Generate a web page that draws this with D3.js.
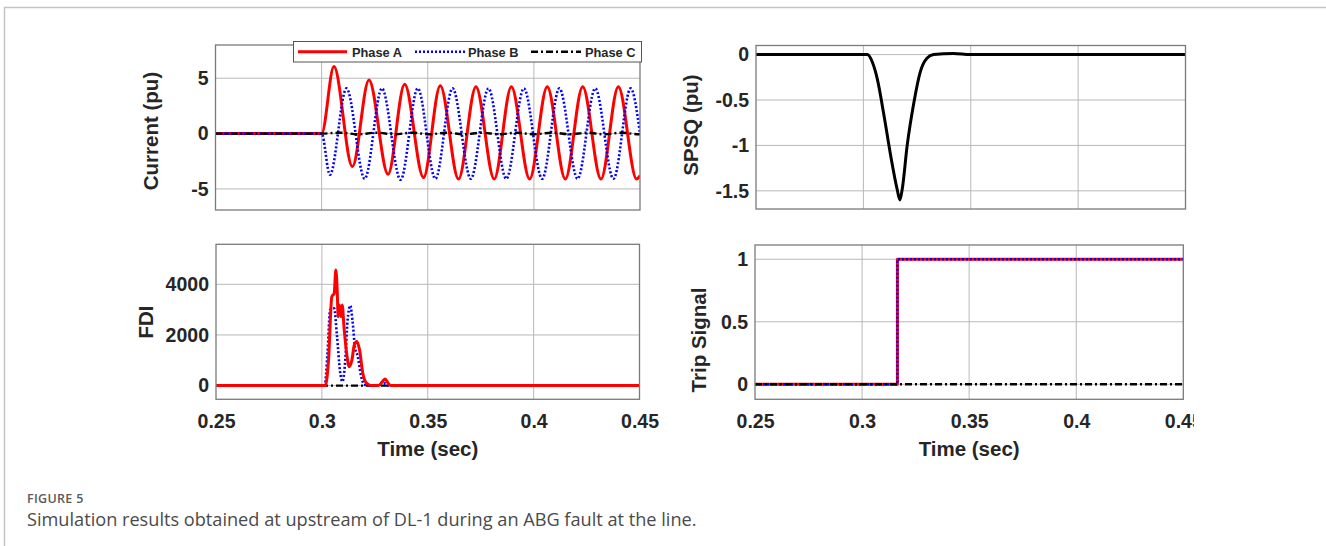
<!DOCTYPE html>
<html>
<head>
<meta charset="utf-8">
<script src="https://cdn.jsdelivr.net/npm/d3@7"></script>
<style>
  body { margin: 0; background: #fff; }
  svg { display: block; }
</style>
</head>
<body>
<svg id="fig" width="1326" height="546"></svg>
<script>
// ---------- data (time in s) ----------
const timeDomain = [0.25, 0.45];
const timeTicks = [0.25, 0.3, 0.35, 0.4, 0.45];
const currentTicks = [-5, 0, 5];
const spsqTicks = [0, -0.5, -1, -1.5];
const fdiTicks = [0, 2000, 4000];
const tripTicks = [0, 0.5, 1];
const phaseNames = ["Phase A", "Phase B", "Phase C"];

// Phase currents (pu): samples at the turning points of each waveform
const currentA = [[0.25,0],[0.3,0],[0.3058,6.05],[0.3145,-2.98],[0.3223,4.85],[0.3313,-3.67],
  [0.3391,4.45],[0.3480,-3.97],[0.3559,4.33],[0.3645,-4.10],[0.3727,4.24],[0.3813,-4.10],
  [0.3894,4.24],[0.3980,-4.10],[0.4063,4.24],[0.4148,-4.10],[0.4230,4.24],[0.4316,-4.10],
  [0.4398,4.24],[0.4484,-4.10],[0.45,-3.8]];
const currentB = [[0.25,0],[0.3,0],[0.3039,-3.72],[0.3117,4.08],[0.3203,-4.08],[0.3284,4.08],
  [0.3372,-4.17],[0.3453,4.08],[0.3536,-4.08],[0.3617,4.08],[0.3703,-4.08],[0.3786,4.08],
  [0.3870,-4.08],[0.3953,4.08],[0.4039,-4.08],[0.4120,4.08],[0.4206,-4.08],[0.4289,4.08],
  [0.4375,-4.08],[0.4456,4.08],[0.45,0]];
const currentC = [[0.25,0],[0.3,0],[0.3085,0.08],[0.3172,-0.06],[0.3258,0.08],[0.3344,-0.06],
  [0.3426,0.08],[0.3508,-0.06],[0.359,0.08],[0.3672,-0.06],[0.3754,0.08],[0.3836,-0.06],
  [0.3918,0.08],[0.4,-0.06],[0.4086,0.08],[0.4172,-0.06],[0.425,0.08],[0.4328,-0.06],
  [0.4412,0.08],[0.4496,-0.06],[0.45,-0.06]];

// Sequence quantity (pu)
const spsq = [[0.25,0],[0.3,0],[0.3019,0],[0.3042,-0.085],[0.3065,-0.27],[0.3096,-0.67],
  [0.3127,-1.11],[0.3157,-1.48],[0.3170,-1.6],[0.3181,-1.48],[0.3204,-1.0],[0.3235,-0.53],
  [0.3265,-0.19],[0.3296,-0.04],[0.3327,0],[0.342,0.012],[0.3497,0],[0.45,0]];

// Fault detection index per phase
const fdiA = [[0.25,0],[0.3016,0],[0.3031,950],[0.3047,3510],[0.3058,3640],[0.3066,4570],
  [0.3072,3840],[0.3077,2720],[0.3083,3180],[0.3090,2720],[0.3096,3180],[0.3105,2260],
  [0.3118,1210],[0.3129,750],[0.3142,1010],[0.3153,1600],[0.3165,1740],[0.3178,1410],
  [0.3192,550],[0.3212,90],[0.3236,0],[0.3267,0],[0.3286,160],[0.3299,260],[0.3311,120],
  [0.3325,0],[0.45,0]];
const fdiB = [[0.25,0],[0.3013,0],[0.3027,1340],[0.3039,2990],[0.3058,3050],[0.3071,2000],
  [0.3086,550],[0.3097,160],[0.3110,950],[0.3121,2530],[0.3134,3160],[0.3145,2530],
  [0.3157,1470],[0.3170,1140],[0.3184,420],[0.3200,50],[0.3215,0],[0.3283,50],[0.3299,90],
  [0.3315,0],[0.45,0]];
const fdiC = [[0.25,0],[0.45,0]];

// Trip commands
const tripA = [[0.25,0],[0.3165,0],[0.3165,1],[0.45,1]];
const tripB = [[0.25,0],[0.3165,0],[0.3165,1],[0.45,1]];
const tripC = [[0.25,0],[0.45,0]];

// ---------- styling ----------
const FONT = '"Liberation Sans", Arial, Helvetica, sans-serif';
const INK = "#262626";
const phaseStyle = [
  { stroke: "#ff0000", width: 3, dash: null },
  { stroke: "#0000ff", width: 2.6, dash: "2,2" },
  { stroke: "#000000", width: 2.4, dash: "7,3,2,3" }
];
const blackSolid = { stroke: "#000000", width: 3, dash: null };

const svg = d3.select("#fig");

// frame around the figure block
svg.append("path")
  .attr("d", "M4.5,546V7.5H1326")
  .attr("fill", "none").attr("stroke", "#c4c4c4").attr("stroke-width", 1.5);

const defs = svg.append("defs");
defs.append("clipPath").attr("id", "figclip")
  .append("rect").attr("x", 0).attr("y", 0).attr("width", 1194).attr("height", 470);

const fig = svg.append("g").attr("clip-path", "url(#figclip)");

const panels = [
  { key: "cur", x: [215.5, 640], y: [45, 210], dom: [-6.9, 8], ticks: currentTicks,
    label: "Current (pu)", lab: [151, 131], xlabels: false,
    series: [[currentA, phaseStyle[0]], [currentB, phaseStyle[1]], [currentC, phaseStyle[2]]], curve: d3.curveMonotoneX },
  { key: "spsq", x: [756, 1185.5], y: [45.5, 209], dom: [-1.7, 0.1], ticks: spsqTicks,
    label: "SPSQ (pu)", lab: [691, 125], xlabels: false,
    series: [[spsq, blackSolid]], curve: d3.curveMonotoneX },
  { key: "fdi", x: [216, 639.5], y: [244.3, 399.3], dom: [-540, 5580], ticks: fdiTicks,
    label: "FDI", lab: [146, 322], xlabels: true,
    series: [[fdiC, phaseStyle[2]], [fdiB, phaseStyle[1]], [fdiA, phaseStyle[0]]], curve: d3.curveMonotoneX },
  { key: "trip", x: [755, 1183.3], y: [245, 399.3], dom: [-0.12, 1.114], ticks: tripTicks,
    label: "Trip Signal", lab: [699, 340], xlabels: true,
    series: [[tripA, phaseStyle[0]], [tripB, phaseStyle[1]], [tripC, phaseStyle[2]]], curve: d3.curveLinear }
];

panels.forEach(p => {
  const x = d3.scaleLinear().domain(timeDomain).range(p.x);
  const y = d3.scaleLinear().domain(p.dom).range([p.y[1], p.y[0]]);
  const g = fig.append("g");
  const w = p.x[1] - p.x[0], h = p.y[1] - p.y[0];

  g.append("rect").attr("x", p.x[0]).attr("y", p.y[0]).attr("width", w).attr("height", h)
    .attr("fill", "#fff");

  // grid
  g.append("g").selectAll("line").data(timeTicks.filter(t => t > timeDomain[0] && t < timeDomain[1]))
    .join("line")
    .attr("x1", d => x(d)).attr("x2", d => x(d)).attr("y1", p.y[0]).attr("y2", p.y[1])
    .attr("stroke", "#b8b8b8").attr("stroke-width", 1);
  g.append("g").selectAll("line").data(p.ticks)
    .join("line")
    .attr("x1", p.x[0]).attr("x2", p.x[1]).attr("y1", d => y(d)).attr("y2", d => y(d))
    .attr("stroke", "#b8b8b8").attr("stroke-width", 1);

  // data lines
  const cid = "clip-" + p.key;
  defs.append("clipPath").attr("id", cid).append("rect")
    .attr("x", p.x[0]).attr("y", p.y[0]).attr("width", w).attr("height", h);
  const line = d3.line().x(d => x(d[0])).y(d => y(d[1])).curve(p.curve);
  const lg = g.append("g").attr("clip-path", `url(#${cid})`);
  p.series.forEach(([data, st]) => {
    lg.append("path").attr("d", line(data))
      .attr("fill", "none").attr("stroke", st.stroke).attr("stroke-width", st.width)
      .attr("stroke-dasharray", st.dash).attr("stroke-linejoin", "round");
  });

  // box
  g.append("rect").attr("x", p.x[0]).attr("y", p.y[0]).attr("width", w).attr("height", h)
    .attr("fill", "none").attr("stroke", "#7a7a7a").attr("stroke-width", 1.3);

  // y axis labels
  const ya = g.append("g").attr("transform", `translate(${p.x[0]},0)`)
    .call(d3.axisLeft(y).tickValues(p.ticks).tickSize(0).tickPadding(7).tickFormat(d => String(d)));
  ya.select(".domain").remove();
  ya.selectAll("text").attr("font-family", FONT).attr("font-size", 19.5)
    .attr("font-weight", "bold").attr("fill", INK);

  // x axis labels (bottom row only)
  if (p.xlabels) {
    const xa = g.append("g").attr("transform", `translate(0,${p.y[1]})`)
      .call(d3.axisBottom(x).tickValues(timeTicks).tickSize(0).tickPadding(15).tickFormat(d => String(d)));
    xa.select(".domain").remove();
    xa.selectAll("text").attr("font-family", FONT).attr("font-size", 19.5)
      .attr("font-weight", "bold").attr("fill", INK);
    g.append("text").attr("x", (p.x[0] + p.x[1]) / 2).attr("y", 456)
      .attr("text-anchor", "middle").attr("font-family", FONT).attr("font-size", 20.5)
      .attr("font-weight", "bold").attr("fill", INK).text("Time (sec)");
  }

  // y title
  g.append("text").attr("transform", `translate(${p.lab[0]},${p.lab[1]}) rotate(-90)`)
    .attr("dy", "0.36em").attr("text-anchor", "middle")
    .attr("font-family", FONT).attr("font-size", 20.5).attr("font-weight", "bold")
    .attr("fill", INK).text(p.label);

  // legend in the current panel
  if (p.key === "cur") {
    const leg = g.append("g");
    leg.append("rect").attr("x", 293.5).attr("y", 41.5).attr("width", 348).attr("height", 20.5)
      .attr("fill", "#fff").attr("stroke", "#555").attr("stroke-width", 1);
    const items = [
      { x0: 298, x1: 347, tx: 352 },
      { x0: 415, x1: 465, tx: 468 },
      { x0: 531, x1: 581, tx: 585 }
    ];
    items.forEach((it, i) => {
      const st = phaseStyle[i];
      leg.append("line").attr("x1", it.x0).attr("x2", it.x1).attr("y1", 51.8).attr("y2", 51.8)
        .attr("stroke", st.stroke).attr("stroke-width", st.width).attr("stroke-dasharray", st.dash);
      leg.append("text").attr("x", it.tx).attr("y", 56.5)
        .attr("font-family", FONT).attr("font-size", 12.8).attr("font-weight", "bold")
        .attr("fill", INK).text(phaseNames[i]);
    });
  }
});

// caption
svg.append("text").attr("x", 27).attr("y", 503)
  .attr("font-family", '"Open Sans", "Noto Sans", sans-serif').attr("font-size", 12.5)
  .attr("letter-spacing", 0.3).attr("fill", "#5a5a5a").attr("font-weight", 600)
  .text("FIGURE 5");
const cap = svg.append("text").attr("x", 27).attr("y", 525.5)
  .attr("font-family", '"Open Sans", "Noto Sans", sans-serif').attr("font-size", 16)
  .attr("fill", "#4a4a4a")
  .text("Simulation results obtained at upstream of DL-1 during an ABG fault at the line.");
const len = cap.node().getComputedTextLength();
cap.attr("font-size", 16 * 670 / len);
</script>
</body>
</html>
